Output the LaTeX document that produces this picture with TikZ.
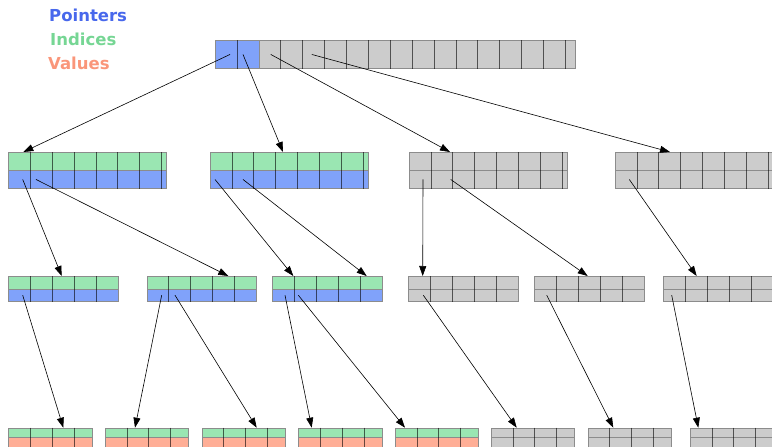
\documentclass[tikz,border=0pt]{standalone}
\usepackage{fontspec}
\setmainfont{DejaVu Sans}
\usetikzlibrary{arrows.meta}
\definecolor{ptrblue}{RGB}{128,162,250}
\definecolor{idxgreen}{RGB}{154,230,178}
\definecolor{valred}{RGB}{255,174,150}
\definecolor{nilgray}{RGB}{204,204,204}
\definecolor{txtblue}{RGB}{72,104,236}
\definecolor{txtgreen}{RGB}{118,214,148}
\definecolor{txtred}{RGB}{250,150,122}
\tikzset{
    rowbox/.style = {rectangle, draw=black!45, line width=0.9pt, inner sep=0pt, anchor=north west},
    ptr/.style = {rowbox, fill=ptrblue},
    idx/.style = {rowbox, fill=idxgreen},
    val/.style = {rowbox, fill=valred},
    nul/.style = {rowbox, fill=nilgray},
    cellsep/.style = {line width=0.7pt, draw=black, draw opacity=0.6},
    legend/.style = {anchor=base west, inner sep=0pt, font=\fontsize{16.5}{18}\selectfont\bfseries},
    edgen/.style = {-{Triangle[length=10pt,width=7pt]}, line width=0.6pt},
}
% name, style, x, y, width, height, inner lines
\newcommand{\cellrow}[7]{%
  \node[#2, minimum width=#5pt, minimum height=#6pt] (#1) at (#3,#4) {};
  \foreach \k in {1,...,#7}
    \draw[cellsep] ([xshift=\k*21.9pt]#1.north west) -- ([xshift=\k*21.9pt]#1.south west);
}

\begin{document}
\begin{tikzpicture}[x=1pt,y=-1pt]
\useasboundingbox (0,0) rectangle (772,447);
%
\node[legend, text=txtblue] (lp) at (49,21.7) {Pointers};
\node[legend, text=txtgreen] (li) at (50,45.7) {Indices};
\node[legend, text=txtred] (lv) at (48,69.3) {Values};
%
% root
\cellrow{top-p}{ptr}{215}{40}{43.8}{28}{1}
\cellrow{top-n}{nul}{258.8}{40}{316}{28}{14}
%
% level 1
\cellrow{l1a-i}{idx}{8.3}{152}{157.6}{18}{7}
\cellrow{l1a-p}{ptr}{8.3}{170}{157.6}{18}{7}
\cellrow{l1b-i}{idx}{210}{152}{157.6}{18}{7}
\cellrow{l1b-p}{ptr}{210}{170}{157.6}{18}{7}
\cellrow{l1c-i}{nul}{409}{152}{157.6}{18}{7}
\cellrow{l1c-p}{nul}{409}{170}{157.6}{18}{7}
\cellrow{l1d-i}{nul}{615}{152}{157.6}{18}{7}
\cellrow{l1d-p}{nul}{615}{170}{157.6}{18}{7}
%
% level 2
\foreach \n/\x/\s in {a/8.3/idx, b/146.7/idx, c/272.3/idx, d/408.3/nul, e/534.3/nul, f/663.3/nul}{
  \cellrow{l2\n-i}{\s}{\x}{276}{109.5}{12.5}{4}
}
\foreach \n/\x/\s in {a/8.3/ptr, b/146.7/ptr, c/272.3/ptr, d/408.3/nul, e/534.3/nul, f/663.3/nul}{
  \cellrow{l2\n-p}{\s}{\x}{288.5}{109.5}{12.5}{4}
}
%
% level 3
\foreach \n/\x/\s in {a/8.3/idx, b/105/idx, c/201.7/idx, d/298.3/idx, e/395/idx, f/491/nul, g/587.7/nul, h/690/nul}{
  \cellrow{l3\n-i}{\s}{\x}{427.7}{83.4}{9.7}{3}
}
\foreach \n/\x/\s in {a/8.3/val, b/105/val, c/201.7/val, d/298.3/val, e/395/val, f/491/nul, g/587.7/nul, h/690/nul}{
  \cellrow{l3\n-v}{\s}{\x}{437.4}{83.4}{9.7}{3}
}
%
\draw[edgen] ([xshift=15pt]top-p.west) -- ([xshift=15pt]l1a-i.north west);
\draw[edgen] ([xshift=28pt]top-p.west) -- ([xshift=73pt]l1b-i.north west);
\draw[edgen] ([xshift=12pt]top-n.west) -- ([xshift=41pt]l1c-i.north west);
\draw[edgen] ([xshift=53pt]top-n.west) -- ([xshift=55pt]l1d-i.north west);
%
\draw[edgen] ([xshift=14.4pt]l1a-p.west) -- ([xshift=53.4pt]l2a-i.north west);
\draw[edgen] ([xshift=27.7pt]l1a-p.west) -- ([xshift=81.6pt]l2b-i.north west);
\draw[edgen] ([xshift=5pt]l1b-p.west) -- ([xshift=21pt]l2c-i.north west);
\draw[edgen] ([xshift=33pt]l1b-p.west) -- ([xshift=94.4pt]l2c-i.north west);
\draw[edgen] ([xshift=14pt]l1c-p.west) -- ([xshift=14.4pt]l2d-i.north west);
\draw[edgen] ([xshift=41.7pt]l1c-p.west) -- ([xshift=53.4pt]l2e-i.north west);
\draw[edgen] ([xshift=14.3pt]l1d-p.west) -- ([xshift=33.4pt]l2f-i.north west);
%
\draw[edgen] ([xshift=14.4pt]l2a-p.west) -- ([xshift=55pt]l3a-i.north west);
\draw[edgen] ([xshift=15pt]l2b-p.west) -- ([xshift=30pt]l3b-i.north west);
\draw[edgen] ([xshift=28.3pt]l2b-p.west) -- ([xshift=55pt]l3c-i.north west);
\draw[edgen] ([xshift=12.7pt]l2c-p.west) -- ([xshift=13.4pt]l3d-i.north west);
\draw[edgen] ([xshift=26pt]l2c-p.west) -- ([xshift=10pt]l3e-i.north west);
\draw[edgen] ([xshift=15pt]l2d-p.west) -- ([xshift=25.7pt]l3f-i.north west);
\draw[edgen] ([xshift=12.4pt]l2e-p.west) -- ([xshift=25.6pt]l3g-i.north west);
\draw[edgen] ([xshift=8.4pt]l2f-p.west) -- ([xshift=8.3pt]l3h-i.north west);

\end{tikzpicture}
\end{document}
